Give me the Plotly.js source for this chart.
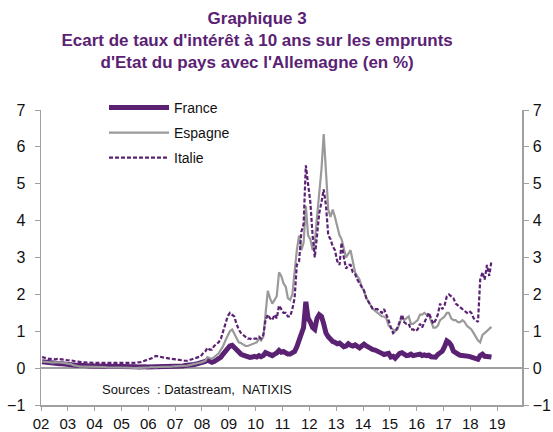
<!DOCTYPE html>
<html><head><meta charset="utf-8">
<script src="https://cdn.plot.ly/plotly-3.0.1.min.js"></script>
<style>html,body{margin:0;padding:0;background:#fff;}#chart{width:553px;height:432px;}</style>
</head><body><div id="chart"></div>
<script>
// Monthly series, Jan 2002 .. Oct 2018 (spread vs Germany, %)
var startYear = 2002;
var france = [
 0.17,0.16,0.15,0.14,0.13,0.12,0.13,0.13,0.12,0.12,0.11,0.10,
 0.10,0.09,0.08,0.08,0.07,0.08,0.07,0.06,0.06,0.07,0.06,0.06,
 0.06,0.07,0.06,0.05,0.06,0.05,0.05,0.06,0.05,0.05,0.06,0.05,
 0.05,0.04,0.05,0.04,0.04,0.05,0.04,0.03,0.04,0.03,0.04,0.03,
 0.03,0.04,0.04,0.05,0.04,0.04,0.05,0.04,0.04,0.05,0.04,0.05,
 0.05,0.05,0.06,0.06,0.07,0.07,0.08,0.09,0.10,0.11,0.12,0.13,
 0.16,0.18,0.22,0.19,0.16,0.18,0.21,0.24,0.30,0.38,0.47,0.55,
 0.60,0.62,0.56,0.48,0.42,0.38,0.35,0.32,0.30,0.29,0.30,0.32,
 0.30,0.34,0.31,0.34,0.42,0.40,0.36,0.34,0.38,0.41,0.48,0.43,
 0.45,0.40,0.38,0.38,0.40,0.45,0.58,0.75,0.85,1.10,1.80,1.35,
 1.25,1.10,1.05,1.35,1.45,1.40,1.20,0.95,0.85,0.78,0.72,0.70,
 0.66,0.68,0.62,0.58,0.60,0.66,0.62,0.60,0.63,0.58,0.55,0.60,
 0.65,0.60,0.56,0.54,0.50,0.49,0.47,0.44,0.40,0.37,0.38,0.40,
 0.30,0.32,0.27,0.35,0.40,0.42,0.37,0.34,0.35,0.38,0.34,0.35,
 0.35,0.38,0.34,0.36,0.34,0.35,0.31,0.30,0.30,0.37,0.42,0.46,
 0.58,0.74,0.70,0.62,0.46,0.40,0.38,0.35,0.35,0.34,0.32,0.32,
 0.30,0.29,0.28,0.24,0.34,0.38,0.32,0.33,0.31,0.30
];
var espagne = [
 0.18,0.17,0.17,0.16,0.15,0.15,0.16,0.16,0.15,0.14,0.14,0.13,
 0.12,0.11,0.08,0.06,0.05,0.04,0.04,0.04,0.05,0.04,0.04,0.03,
 0.03,0.03,0.04,0.03,0.03,0.02,0.02,0.03,0.02,0.02,0.02,0.02,
 0.02,0.02,0.01,0.01,0.01,0.00,0.00,0.00,0.01,0.00,0.01,0.02,
 0.02,0.03,0.02,0.02,0.03,0.03,0.02,0.03,0.03,0.04,0.04,0.05,
 0.05,0.05,0.05,0.06,0.06,0.07,0.08,0.10,0.11,0.12,0.14,0.15,
 0.18,0.20,0.30,0.28,0.25,0.30,0.35,0.40,0.50,0.60,0.75,0.88,
 1.00,1.05,0.95,0.80,0.70,0.68,0.65,0.60,0.60,0.62,0.65,0.66,
 0.70,0.80,0.75,0.85,1.50,2.10,1.90,1.75,1.85,1.95,2.60,2.50,
 2.30,2.20,1.90,1.85,2.00,2.60,3.20,3.60,3.20,3.40,4.40,3.60,
 3.50,3.20,3.40,4.10,4.80,5.40,6.35,5.20,4.30,4.10,4.30,4.10,
 3.80,3.60,3.50,3.20,3.00,3.10,3.20,2.90,2.60,2.50,2.40,2.20,
 2.10,1.90,1.80,1.70,1.60,1.55,1.50,1.45,1.40,1.40,1.35,1.15,
 1.10,1.05,1.00,1.05,1.20,1.40,1.30,1.35,1.40,1.20,1.20,1.25,
 1.30,1.45,1.45,1.50,1.45,1.45,1.30,1.10,1.10,1.15,1.30,1.35,
 1.40,1.50,1.50,1.35,1.30,1.30,1.25,1.25,1.30,1.25,1.15,1.10,
 1.05,0.95,0.85,0.75,0.70,0.90,0.95,1.00,1.05,1.12
];
var italie = [
 0.30,0.28,0.27,0.25,0.25,0.24,0.24,0.25,0.25,0.24,0.23,0.22,
 0.22,0.20,0.20,0.18,0.17,0.17,0.16,0.16,0.15,0.15,0.15,0.14,
 0.14,0.14,0.13,0.13,0.13,0.13,0.13,0.13,0.13,0.12,0.12,0.12,
 0.12,0.12,0.12,0.12,0.13,0.14,0.15,0.15,0.16,0.18,0.20,0.22,
 0.25,0.27,0.30,0.33,0.32,0.30,0.30,0.28,0.27,0.26,0.25,0.24,
 0.23,0.22,0.22,0.21,0.20,0.20,0.22,0.24,0.25,0.28,0.30,0.32,
 0.40,0.45,0.55,0.50,0.50,0.60,0.65,0.70,0.80,1.00,1.20,1.40,
 1.50,1.45,1.40,1.20,1.05,0.95,0.90,0.85,0.80,0.80,0.78,0.80,
 0.80,0.85,0.80,0.90,1.30,1.45,1.35,1.30,1.45,1.35,1.70,1.60,
 1.50,1.50,1.40,1.40,1.60,1.90,2.80,2.90,3.70,3.90,5.50,5.00,
 4.50,3.60,3.00,3.60,4.20,4.50,4.85,4.40,3.60,3.50,3.30,3.20,
 2.90,2.80,3.40,3.00,2.70,2.80,2.80,2.60,2.55,2.40,2.30,2.20,
 2.10,1.90,1.80,1.70,1.60,1.60,1.60,1.55,1.50,1.60,1.45,1.30,
 1.10,0.95,1.00,1.10,1.25,1.45,1.25,1.20,1.20,1.05,1.05,1.00,
 1.05,1.20,1.10,1.25,1.35,1.50,1.35,1.20,1.30,1.45,1.75,1.60,
 1.70,1.95,2.00,1.95,1.90,1.75,1.70,1.65,1.60,1.55,1.50,1.55,
 1.50,1.35,1.30,1.25,2.40,2.60,2.40,2.80,2.50,2.90
];
var seriesNames = ['France', 'Espagne', 'Italie'];
var titleText = '<b>Graphique 3<br>Ecart de taux d\'intérêt à 10 ans sur les emprunts<br>d\'Etat du pays avec l\'Allemagne (en %)</b>';
var sourceText = 'Sources  : Datastream,  NATIXIS';

function monthDates(n) {
  var out = [];
  for (var i = 0; i < n; i++) {
    var y = startYear + Math.floor(i / 12), m = (i % 12) + 1;
    out.push(y + '-' + (m < 10 ? '0' + m : m) + '-15');
  }
  return out;
}
var dates = monthDates(france.length);
var purple = '#5b2274', grey = '#9a9a9a', axisGrey = '#a0a0a0';
var fam = 'Liberation Sans, Arial, sans-serif';

var traces = [
  {x: dates, y: france, name: seriesNames[0], mode: 'lines', line: {color: purple, width: 5}, legend: 'legend'},
  {x: dates, y: espagne, name: seriesNames[1], mode: 'lines', line: {color: grey, width: 2.2}, legend: 'legend2'},
  {x: dates, y: italie, name: seriesNames[2], mode: 'lines', line: {color: purple, width: 2.2, dash: '4px,2px'}, legend: 'legend3'},
  {x: [dates[0]], y: [null], yaxis: 'y2', showlegend: false, hoverinfo: 'skip'}
];

var yax = {
  range: [-1, 7], dtick: 1, showgrid: false, zeroline: true, zerolinecolor: axisGrey, zerolinewidth: 1.5,
  showline: true, linecolor: axisGrey, linewidth: 1.5, ticks: 'outside', ticklen: 5, tickcolor: axisGrey,
  ticklabelstandoff: 6,
  tickfont: {size: 16, color: '#111', family: fam}, fixedrange: true
};
var yax2 = Object.assign({}, yax, {overlaying: 'y', side: 'right', zeroline: false, ticklabelstandoff: 1});

function leg(yPx) {
  return {x: (104 - 41) / 481, y: (405 - yPx) / 295, xanchor: 'left', yanchor: 'middle', itemwidth: 60,
          bgcolor: 'rgba(0,0,0,0)', borderwidth: 0, font: {size: 14, color: '#111', family: fam}};
}

var layout = {
  width: 553, height: 432,
  margin: {l: 41, r: 31, t: 110, b: 27},
  paper_bgcolor: '#fff', plot_bgcolor: '#fff',
  font: {family: fam, color: '#111'},
  title: {text: titleText, x: 0.465, xanchor: 'center', xref: 'container', y: 0.944, yanchor: 'top',
          font: {size: 17, color: '#5b2274', family: fam}},
  xaxis: {type: 'date', range: ['2002-01-01', '2019-12-05'], dtick: 'M12', tick0: '2002-01-01', tickformat: '%y',
          showgrid: false, showline: true, linecolor: axisGrey, linewidth: 1.5, ticks: 'outside', ticklen: 4, tickcolor: axisGrey,
          tickfont: {size: 15, color: '#111', family: fam}, fixedrange: true},
  yaxis: yax, yaxis2: yax2,
  showlegend: true,
  legend: leg(108), legend2: leg(133), legend3: leg(158),
  annotations: [{text: sourceText, xref: 'paper', yref: 'paper', x: 0.122, y: 0.051, xanchor: 'left', yanchor: 'middle',
                 showarrow: false, font: {size: 13, color: '#111', family: fam}}]
};
Plotly.newPlot('chart', traces, layout, {staticPlot: true, displayModeBar: false});
</script></body></html>
